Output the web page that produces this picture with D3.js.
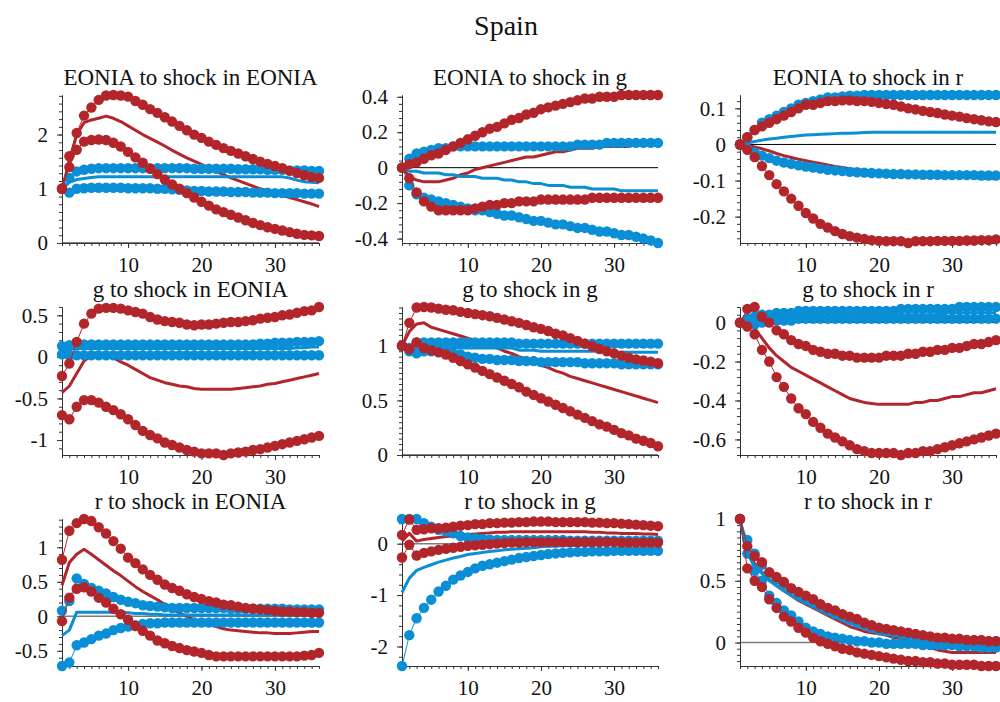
<!DOCTYPE html>
<html><head><meta charset="utf-8">
<script src="https://cdn.jsdelivr.net/npm/d3@7"></script>
<style>body{margin:0;background:#fff}svg{display:block}</style>
</head><body>
<svg id="chart" width="1000" height="702"></svg>
<script>
// ---------- data ----------
const periods = [1,2,3,4,5,6,7,8,9,10,11,12,13,14,15,16,17,18,19,20,21,22,23,24,25,26,27,28,29,30,31,32,33,34,35,36];
const mainTitle = "Spain";
const panelTitles = ["EONIA to shock in EONIA","EONIA to shock in g","EONIA to shock in r",
  "g to shock in EONIA","g to shock in g","g to shock in r",
  "r to shock in EONIA","r to shock in g","r to shock in r"];
const xTickValues = [10,20,30];
const yTickValues = [[0,1,2],[-0.4,-0.2,0,0.2,0.4],[-0.2,-0.1,0,0.1],
  [-1,-0.5,0,0.5],[0,0.5,1],[-0.6,-0.4,-0.2,0],
  [-0.5,0,0.5,1],[-2,-1,0],[0,0.5,1]];

// EONIA to shock in EONIA
const EE_redHi = [1.0,1.6,2.03,2.35,2.5,2.64,2.72,2.73,2.72,2.7,2.62,2.55,2.47,2.4,2.32,2.24,2.16,2.08,2.0,1.94,1.87,1.81,1.75,1.7,1.65,1.6,1.55,1.5,1.46,1.42,1.38,1.33,1.29,1.25,1.22,1.2];
const EE_redMid = [1.0,1.5,2.0,2.22,2.27,2.3,2.34,2.3,2.24,2.16,2.08,2.0,1.93,1.86,1.79,1.71,1.64,1.57,1.51,1.45,1.38,1.32,1.26,1.2,1.15,1.1,1.05,1.0,0.96,0.92,0.88,0.84,0.8,0.76,0.72,0.67];
const EE_redLo = [1.0,1.4,1.72,1.87,1.9,1.91,1.9,1.85,1.78,1.68,1.58,1.48,1.37,1.27,1.17,1.08,1.0,0.92,0.84,0.76,0.69,0.62,0.57,0.52,0.47,0.42,0.37,0.33,0.29,0.26,0.23,0.2,0.17,0.15,0.14,0.13];
const EE_blueHi = [1.0,1.2,1.32,1.35,1.37,1.38,1.38,1.38,1.38,1.38,1.38,1.38,1.38,1.38,1.38,1.38,1.38,1.38,1.37,1.37,1.37,1.37,1.37,1.37,1.36,1.36,1.36,1.36,1.35,1.35,1.35,1.34,1.34,1.34,1.33,1.33];
const EE_blueMid = [1.0,1.12,1.17,1.19,1.21,1.22,1.22,1.22,1.22,1.22,1.22,1.22,1.22,1.22,1.22,1.22,1.22,1.22,1.22,1.22,1.22,1.22,1.22,1.22,1.22,1.22,1.22,1.22,1.22,1.22,1.22,1.2,1.16,1.13,1.12,1.11];
const EE_blueLo = [1.0,0.93,1.0,1.01,1.02,1.02,1.02,1.02,1.02,1.01,1.01,1.01,1.01,1.0,1.0,0.99,0.98,0.97,0.96,0.96,0.95,0.95,0.95,0.94,0.94,0.94,0.93,0.93,0.93,0.92,0.92,0.92,0.92,0.91,0.91,0.91];

// EONIA to shock in g
const EG_redHi = [0,0.02,0.03,0.05,0.07,0.08,0.1,0.12,0.14,0.16,0.18,0.2,0.22,0.23,0.25,0.27,0.28,0.3,0.31,0.33,0.34,0.35,0.36,0.37,0.38,0.39,0.39,0.4,0.4,0.4,0.41,0.41,0.41,0.41,0.41,0.41];
const EG_redMid = [0,-0.05,-0.07,-0.08,-0.08,-0.08,-0.07,-0.06,-0.04,-0.03,-0.01,0.0,0.01,0.02,0.03,0.04,0.05,0.06,0.06,0.07,0.08,0.09,0.09,0.1,0.11,0.11,0.11,0.12,0.12,0.12,0.12,0.12,0.13,0.13,0.13,0.14];
const EG_redLo = [0,-0.06,-0.14,-0.19,-0.22,-0.24,-0.24,-0.24,-0.24,-0.24,-0.23,-0.22,-0.21,-0.21,-0.2,-0.2,-0.19,-0.19,-0.19,-0.18,-0.18,-0.18,-0.18,-0.18,-0.18,-0.18,-0.17,-0.17,-0.17,-0.17,-0.17,-0.17,-0.17,-0.17,-0.17,-0.17];
const EG_blueHi = [0,0.05,0.08,0.09,0.1,0.11,0.11,0.12,0.12,0.12,0.12,0.12,0.12,0.12,0.12,0.12,0.12,0.12,0.12,0.12,0.12,0.12,0.12,0.12,0.13,0.13,0.13,0.13,0.14,0.14,0.14,0.14,0.14,0.14,0.14,0.14];
const EG_blueMid = [0,-0.02,-0.02,-0.03,-0.03,-0.03,-0.04,-0.04,-0.05,-0.05,-0.05,-0.06,-0.06,-0.06,-0.07,-0.07,-0.08,-0.08,-0.09,-0.09,-0.1,-0.1,-0.1,-0.11,-0.11,-0.11,-0.12,-0.12,-0.12,-0.12,-0.13,-0.13,-0.13,-0.13,-0.13,-0.13];
const EG_blueLo = [0,-0.1,-0.15,-0.17,-0.18,-0.19,-0.2,-0.21,-0.22,-0.23,-0.24,-0.24,-0.25,-0.26,-0.27,-0.27,-0.28,-0.29,-0.3,-0.3,-0.31,-0.32,-0.32,-0.33,-0.34,-0.34,-0.35,-0.36,-0.36,-0.37,-0.38,-0.38,-0.39,-0.4,-0.41,-0.425];

// EONIA to shock in r
const ER_redHi = [0,0.02,0.04,0.05,0.06,0.07,0.08,0.09,0.1,0.11,0.11,0.115,0.12,0.12,0.122,0.122,0.12,0.12,0.118,0.115,0.112,0.11,0.105,0.1,0.097,0.093,0.09,0.087,0.083,0.08,0.077,0.073,0.07,0.067,0.064,0.062];
const ER_redMid = [0,-0.003,-0.007,-0.012,-0.018,-0.025,-0.031,-0.036,-0.041,-0.045,-0.049,-0.053,-0.057,-0.061,-0.064,-0.067,-0.07,-0.072,-0.074,-0.076,-0.078,-0.08,-0.081,-0.083,-0.084,-0.085,-0.086,-0.087,-0.088,-0.089,-0.09,-0.091,-0.092,-0.093,-0.094,-0.095];
const ER_redLo = [0,-0.015,-0.035,-0.06,-0.085,-0.11,-0.13,-0.15,-0.17,-0.19,-0.205,-0.22,-0.23,-0.24,-0.248,-0.254,-0.258,-0.262,-0.265,-0.267,-0.268,-0.268,-0.268,-0.273,-0.268,-0.268,-0.268,-0.267,-0.267,-0.267,-0.267,-0.266,-0.266,-0.265,-0.265,-0.263];
const ER_blueHi = [0,0.02,0.04,0.06,0.07,0.08,0.09,0.1,0.11,0.115,0.12,0.125,0.13,0.13,0.133,0.135,0.135,0.137,0.137,0.137,0.137,0.137,0.137,0.137,0.137,0.137,0.137,0.137,0.137,0.137,0.137,0.137,0.137,0.137,0.137,0.137];
const ER_blueMid = [0,0.004,0.008,0.012,0.015,0.017,0.02,0.022,0.024,0.026,0.027,0.028,0.029,0.03,0.031,0.031,0.032,0.033,0.034,0.034,0.034,0.034,0.034,0.034,0.034,0.034,0.034,0.034,0.034,0.034,0.034,0.034,0.034,0.034,0.034,0.034];
const ER_blueLo = [0,-0.012,-0.022,-0.031,-0.038,-0.045,-0.05,-0.054,-0.058,-0.061,-0.064,-0.067,-0.07,-0.072,-0.074,-0.076,-0.077,-0.078,-0.079,-0.08,-0.081,-0.082,-0.082,-0.083,-0.083,-0.084,-0.084,-0.084,-0.085,-0.085,-0.085,-0.085,-0.085,-0.086,-0.086,-0.086];

// g to shock in EONIA
const GE_redHi = [-0.23,-0.08,0.18,0.4,0.52,0.58,0.59,0.59,0.58,0.56,0.54,0.52,0.48,0.45,0.43,0.42,0.41,0.39,0.38,0.39,0.39,0.4,0.41,0.42,0.42,0.43,0.44,0.46,0.47,0.48,0.5,0.51,0.53,0.55,0.56,0.6];
const GE_redMid = [-0.43,-0.35,-0.2,-0.05,0.02,0.03,0.02,-0.01,-0.06,-0.1,-0.15,-0.2,-0.25,-0.28,-0.31,-0.33,-0.35,-0.36,-0.38,-0.39,-0.39,-0.39,-0.39,-0.39,-0.38,-0.37,-0.36,-0.35,-0.33,-0.32,-0.3,-0.28,-0.26,-0.24,-0.22,-0.2];
const GE_redLo = [-0.7,-0.75,-0.6,-0.52,-0.52,-0.55,-0.6,-0.64,-0.69,-0.75,-0.82,-0.89,-0.94,-0.98,-1.03,-1.06,-1.09,-1.12,-1.14,-1.16,-1.16,-1.16,-1.18,-1.16,-1.15,-1.14,-1.12,-1.11,-1.09,-1.07,-1.05,-1.03,-1.01,-0.99,-0.97,-0.95];
const GE_blueHi = [0.13,0.14,0.15,0.15,0.15,0.15,0.15,0.15,0.15,0.15,0.15,0.15,0.15,0.15,0.15,0.15,0.15,0.15,0.15,0.15,0.15,0.15,0.15,0.15,0.15,0.15,0.15,0.16,0.16,0.17,0.17,0.17,0.18,0.18,0.18,0.19];
const GE_blueMid = [0.08,0.09,0.1,0.1,0.1,0.1,0.1,0.1,0.1,0.1,0.1,0.1,0.1,0.1,0.1,0.1,0.1,0.1,0.1,0.1,0.1,0.1,0.1,0.1,0.1,0.1,0.1,0.1,0.1,0.1,0.1,0.1,0.11,0.11,0.12,0.12];
const GE_blueLo = [0.03,0.02,0.02,0.02,0.02,0.02,0.02,0.02,0.02,0.02,0.02,0.02,0.02,0.02,0.02,0.02,0.02,0.02,0.02,0.02,0.02,0.02,0.02,0.02,0.02,0.02,0.02,0.02,0.02,0.02,0.02,0.02,0.02,0.02,0.02,0.02];

// g to shock in g
const GG_redHi = [1.0,1.21,1.35,1.355,1.35,1.34,1.33,1.325,1.31,1.3,1.29,1.28,1.27,1.255,1.24,1.225,1.21,1.19,1.17,1.155,1.135,1.11,1.095,1.07,1.045,1.02,0.995,0.97,0.95,0.93,0.91,0.89,0.875,0.865,0.855,0.84];
const GG_redMid = [1.0,1.13,1.2,1.21,1.17,1.15,1.13,1.11,1.09,1.07,1.05,1.02,1.0,0.98,0.95,0.93,0.9,0.88,0.85,0.82,0.8,0.77,0.75,0.72,0.7,0.68,0.66,0.64,0.62,0.6,0.58,0.56,0.54,0.52,0.5,0.48];
const GG_redLo = [1.0,0.97,1.03,0.98,0.96,0.94,0.92,0.89,0.86,0.83,0.8,0.77,0.74,0.71,0.68,0.65,0.62,0.58,0.55,0.52,0.49,0.46,0.43,0.4,0.37,0.34,0.31,0.28,0.26,0.23,0.2,0.18,0.15,0.13,0.11,0.08];
const GG_blueHi = [1.0,0.98,1.03,1.03,1.03,1.03,1.03,1.03,1.03,1.03,1.03,1.03,1.03,1.03,1.03,1.03,1.02,1.02,1.02,1.02,1.02,1.02,1.02,1.02,1.02,1.02,1.02,1.02,1.02,1.02,1.02,1.02,1.02,1.02,1.02,1.02];
const GG_blueMid = [1.0,0.97,0.97,0.98,0.98,0.98,0.98,0.98,0.98,0.98,0.98,0.98,0.98,0.98,0.98,0.98,0.96,0.96,0.96,0.95,0.95,0.95,0.95,0.95,0.95,0.95,0.95,0.95,0.95,0.94,0.94,0.94,0.94,0.94,0.94,0.94];
const GG_blueLo = [1.0,0.95,0.93,0.95,0.95,0.95,0.94,0.93,0.92,0.9,0.89,0.88,0.88,0.87,0.87,0.87,0.86,0.86,0.86,0.85,0.85,0.85,0.85,0.85,0.85,0.84,0.84,0.84,0.84,0.84,0.83,0.83,0.83,0.83,0.83,0.83];

// g to shock in r
const GR_redHi = [0,0.07,0.08,0.03,0.0,-0.04,-0.06,-0.09,-0.11,-0.12,-0.14,-0.15,-0.16,-0.16,-0.17,-0.17,-0.18,-0.18,-0.18,-0.18,-0.17,-0.17,-0.17,-0.16,-0.16,-0.15,-0.15,-0.14,-0.14,-0.13,-0.13,-0.12,-0.11,-0.11,-0.1,-0.09];
const GR_redMid = [0,0.0,-0.03,-0.08,-0.13,-0.17,-0.2,-0.23,-0.25,-0.27,-0.29,-0.31,-0.33,-0.35,-0.37,-0.39,-0.4,-0.41,-0.415,-0.42,-0.42,-0.42,-0.42,-0.42,-0.41,-0.41,-0.4,-0.4,-0.39,-0.38,-0.38,-0.37,-0.36,-0.36,-0.35,-0.34];
const GR_redLo = [0,-0.02,-0.06,-0.14,-0.2,-0.28,-0.33,-0.39,-0.44,-0.47,-0.51,-0.54,-0.57,-0.59,-0.61,-0.63,-0.65,-0.66,-0.67,-0.67,-0.67,-0.67,-0.68,-0.67,-0.67,-0.66,-0.66,-0.65,-0.64,-0.63,-0.62,-0.61,-0.6,-0.59,-0.58,-0.57];
const GR_blueHi = [0,0.02,0.03,0.04,0.04,0.05,0.05,0.05,0.06,0.06,0.06,0.06,0.06,0.06,0.06,0.06,0.06,0.06,0.06,0.06,0.06,0.06,0.07,0.07,0.07,0.07,0.07,0.07,0.07,0.07,0.08,0.08,0.08,0.08,0.08,0.08];
const GR_blueMid = [0,0.01,0.02,0.02,0.03,0.03,0.03,0.03,0.03,0.03,0.03,0.03,0.03,0.03,0.03,0.03,0.03,0.03,0.04,0.04,0.04,0.04,0.04,0.04,0.04,0.04,0.04,0.04,0.05,0.05,0.05,0.05,0.05,0.05,0.05,0.05];
const GR_blueLo = [0,0.0,-0.01,0.0,0.01,0.01,0.01,0.01,0.02,0.02,0.02,0.02,0.02,0.02,0.02,0.02,0.02,0.02,0.02,0.02,0.02,0.02,0.02,0.02,0.02,0.02,0.02,0.02,0.02,0.02,0.02,0.02,0.02,0.02,0.02,0.02];

// r to shock in EONIA
const RE_redHi = [0.82,1.24,1.35,1.41,1.38,1.29,1.2,1.09,0.98,0.85,0.77,0.68,0.6,0.53,0.46,0.41,0.37,0.32,0.28,0.25,0.22,0.2,0.17,0.16,0.14,0.12,0.11,0.1,0.09,0.08,0.07,0.07,0.06,0.06,0.05,0.05];
const RE_redMid = [0.45,0.78,0.9,0.97,0.9,0.82,0.74,0.66,0.59,0.51,0.43,0.36,0.3,0.24,0.17,0.1,0.05,0.0,-0.05,-0.09,-0.12,-0.15,-0.18,-0.2,-0.21,-0.22,-0.23,-0.24,-0.24,-0.25,-0.25,-0.25,-0.24,-0.23,-0.22,-0.22];
const RE_redLo = [-0.07,0.27,0.4,0.42,0.36,0.27,0.2,0.11,0.03,-0.05,-0.14,-0.21,-0.28,-0.35,-0.39,-0.43,-0.46,-0.49,-0.51,-0.53,-0.56,-0.58,-0.58,-0.58,-0.58,-0.58,-0.58,-0.58,-0.58,-0.58,-0.58,-0.58,-0.58,-0.57,-0.56,-0.53];
const RE_blueHi = [0.08,0.22,0.55,0.47,0.41,0.37,0.33,0.28,0.24,0.21,0.19,0.16,0.15,0.14,0.13,0.12,0.12,0.12,0.12,0.12,0.12,0.12,0.12,0.11,0.11,0.11,0.11,0.11,0.11,0.11,0.11,0.1,0.1,0.1,0.1,0.1];
const RE_blueMid = [-0.28,-0.2,0.06,0.06,0.06,0.06,0.06,0.06,0.06,0.05,0.04,0.04,0.03,0.03,0.02,0.02,0.02,0.02,0.02,0.02,0.02,0.02,0.02,0.02,0.02,0.02,0.02,0.02,0.02,0.02,0.02,0.02,0.02,0.02,0.02,0.02];
const RE_blueLo = [-0.72,-0.67,-0.42,-0.38,-0.33,-0.28,-0.25,-0.2,-0.17,-0.15,-0.13,-0.11,-0.1,-0.1,-0.09,-0.09,-0.09,-0.09,-0.09,-0.09,-0.09,-0.09,-0.09,-0.09,-0.09,-0.09,-0.09,-0.09,-0.09,-0.09,-0.09,-0.09,-0.09,-0.09,-0.09,-0.09];

// r to shock in g
const RG_redHi = [0.17,0.47,0.27,0.28,0.3,0.3,0.31,0.33,0.35,0.36,0.38,0.38,0.4,0.4,0.41,0.41,0.42,0.42,0.43,0.43,0.43,0.42,0.42,0.42,0.42,0.42,0.41,0.41,0.4,0.4,0.39,0.38,0.37,0.36,0.35,0.34];
const RG_redMid = [0.05,0.2,0.05,0.08,0.1,0.12,0.14,0.15,0.17,0.18,0.19,0.2,0.21,0.22,0.22,0.23,0.23,0.23,0.23,0.23,0.23,0.23,0.23,0.23,0.23,0.23,0.22,0.22,0.21,0.21,0.2,0.2,0.2,0.19,0.19,0.18];
const RG_redLo = [-0.27,-0.02,-0.23,-0.18,-0.15,-0.12,-0.1,-0.08,-0.06,-0.04,-0.03,-0.02,-0.01,0.0,0.01,0.02,0.02,0.03,0.03,0.03,0.03,0.03,0.03,0.03,0.03,0.03,0.03,0.03,0.03,0.03,0.02,0.02,0.02,0.02,0.02,0.02];
const RG_blueHi = [0.48,0.48,0.48,0.4,0.33,0.27,0.24,0.2,0.15,0.12,0.1,0.09,0.08,0.07,0.07,0.07,0.07,0.07,0.07,0.07,0.07,0.07,0.07,0.06,0.06,0.06,0.06,0.06,0.06,0.06,0.06,0.06,0.06,0.06,0.06,0.06];
const RG_blueMid = [-0.95,-0.67,-0.52,-0.46,-0.41,-0.36,-0.32,-0.28,-0.25,-0.21,-0.19,-0.17,-0.15,-0.14,-0.12,-0.11,-0.1,-0.09,-0.08,-0.06,-0.05,-0.05,-0.04,-0.04,-0.03,-0.03,-0.03,-0.02,-0.02,-0.02,-0.02,-0.02,-0.02,-0.02,-0.02,-0.02];
const RG_blueLo = [-2.38,-1.78,-1.45,-1.25,-1.09,-0.93,-0.82,-0.7,-0.62,-0.55,-0.48,-0.43,-0.4,-0.37,-0.34,-0.31,-0.28,-0.26,-0.24,-0.22,-0.2,-0.19,-0.18,-0.17,-0.16,-0.16,-0.15,-0.15,-0.15,-0.14,-0.14,-0.14,-0.14,-0.14,-0.14,-0.14];

// r to shock in r
const RR_redHi = [1.0,0.78,0.7,0.65,0.57,0.53,0.49,0.44,0.41,0.38,0.35,0.31,0.28,0.26,0.23,0.21,0.19,0.16,0.14,0.12,0.11,0.1,0.09,0.08,0.07,0.06,0.05,0.04,0.04,0.03,0.03,0.02,0.02,0.02,0.01,0.01];
const RR_redMid = [1.0,0.72,0.64,0.57,0.51,0.46,0.42,0.38,0.34,0.31,0.28,0.25,0.22,0.19,0.16,0.13,0.11,0.09,0.08,0.07,0.06,0.04,0.03,0.01,0.0,-0.02,-0.04,-0.06,-0.07,-0.08,-0.08,-0.08,-0.08,-0.08,-0.08,-0.08];
const RR_redLo = [1.0,0.6,0.5,0.45,0.35,0.28,0.21,0.17,0.12,0.08,0.04,0.01,-0.01,-0.03,-0.05,-0.06,-0.08,-0.09,-0.1,-0.11,-0.12,-0.13,-0.14,-0.15,-0.15,-0.16,-0.16,-0.17,-0.17,-0.18,-0.18,-0.18,-0.18,-0.19,-0.19,-0.19];
const RR_blueHi = [1.0,0.83,0.72,0.63,0.56,0.51,0.47,0.43,0.39,0.35,0.32,0.29,0.26,0.23,0.21,0.18,0.16,0.14,0.12,0.1,0.09,0.08,0.07,0.06,0.05,0.04,0.04,0.03,0.03,0.02,0.02,0.02,0.01,0.01,0.01,0.01];
const RR_blueMid = [1.0,0.72,0.62,0.56,0.5,0.46,0.42,0.38,0.35,0.32,0.29,0.26,0.23,0.21,0.18,0.16,0.14,0.12,0.1,0.09,0.07,0.06,0.05,0.04,0.03,0.02,0.01,0.0,0.0,-0.01,-0.01,-0.02,-0.02,-0.02,-0.03,-0.03];
const RR_blueLo = [1.0,0.72,0.58,0.5,0.38,0.32,0.26,0.22,0.17,0.12,0.09,0.07,0.05,0.04,0.03,0.02,0.01,0.01,0.0,0.0,-0.01,-0.01,-0.01,-0.01,-0.01,-0.02,-0.02,-0.02,-0.02,-0.02,-0.03,-0.03,-0.03,-0.04,-0.04,-0.04];

// ---------- layout / style ----------
const RED = "#b2262b", BLUE = "#0a8ed6";
const colLeft = [62, 402, 740], colRight = [319, 658, 996];
const rowTop = [95, 307, 519], rowBottom = [243, 455, 666];
const minorPerMajor = [7, 5, 5, 5, 10, 5, 5, 5, 10];
const FONT = "'Liberation Serif','Times New Roman',serif";

const panels = [
  {redHi:EE_redHi, redMid:EE_redMid, redLo:EE_redLo, blueHi:EE_blueHi, blueMid:EE_blueMid, blueLo:EE_blueLo},
  {redHi:EG_redHi, redMid:EG_redMid, redLo:EG_redLo, blueHi:EG_blueHi, blueMid:EG_blueMid, blueLo:EG_blueLo},
  {redHi:ER_redHi, redMid:ER_redMid, redLo:ER_redLo, blueHi:ER_blueHi, blueMid:ER_blueMid, blueLo:ER_blueLo},
  {redHi:GE_redHi, redMid:GE_redMid, redLo:GE_redLo, blueHi:GE_blueHi, blueMid:GE_blueMid, blueLo:GE_blueLo},
  {redHi:GG_redHi, redMid:GG_redMid, redLo:GG_redLo, blueHi:GG_blueHi, blueMid:GG_blueMid, blueLo:GG_blueLo},
  {redHi:GR_redHi, redMid:GR_redMid, redLo:GR_redLo, blueHi:GR_blueHi, blueMid:GR_blueMid, blueLo:GR_blueLo},
  {redHi:RE_redHi, redMid:RE_redMid, redLo:RE_redLo, blueHi:RE_blueHi, blueMid:RE_blueMid, blueLo:RE_blueLo},
  {redHi:RG_redHi, redMid:RG_redMid, redLo:RG_redLo, blueHi:RG_blueHi, blueMid:RG_blueMid, blueLo:RG_blueLo},
  {redHi:RR_redHi, redMid:RR_redMid, redLo:RR_redLo, blueHi:RR_blueHi, blueMid:RR_blueMid, blueLo:RR_blueLo}
];

const svg = d3.select("#chart");
svg.append("rect").attr("width",1000).attr("height",702).attr("fill","#fff");

svg.append("text").attr("x",506).attr("y",35).attr("text-anchor","middle")
  .attr("font-family",FONT).attr("font-size",28).attr("fill","#111").text(mainTitle);

const fmt = v => String(v);

panels.forEach((p, i) => {
  const r = Math.floor(i / 3), c = i % 3;
  const L = colLeft[c], R = colRight[c], T = rowTop[r], B = rowBottom[r];
  const all = [].concat(p.redHi, p.redMid, p.redLo, p.blueHi, p.blueMid, p.blueLo, [0]);
  const x = d3.scaleLinear().domain([periods[0], periods[periods.length-1]]).range([L, R]);
  const y = d3.scaleLinear().domain(d3.extent(all)).range([B, T]);
  const g = svg.append("g");

  // title
  g.append("text").attr("x",(L+R)/2).attr("y",T-10).attr("text-anchor","middle")
    .attr("font-family",FONT).attr("font-size",23).attr("fill","#111").text(panelTitles[i]);

  // zero line
  const zeroColor = r === 2 ? "#7d7d7d" : "#000";
  g.append("line").attr("x1",x(periods[0])).attr("x2",x(periods[periods.length-1]))
    .attr("y1",y(0)).attr("y2",y(0)).attr("stroke",zeroColor).attr("stroke-width", r === 2 ? 1.5 : 1);

  // minor y ticks
  const tv = yTickValues[i];
  const step = (tv[1] - tv[0]) / minorPerMajor[i];
  const [ymin, ymax] = y.domain();
  const minors = [];
  for (let k = Math.ceil((ymin - 1e-9) / step); k * step <= ymax + 1e-9; k++) minors.push(k * step);

  const ax = (sel) => {
    sel.selectAll("path.domain").attr("stroke","#333");
    sel.selectAll(".tick line").attr("stroke","#333");
    sel.selectAll("text").attr("font-family",FONT).attr("font-size",21).attr("fill","#111");
  };
  g.append("g").attr("transform",`translate(${L},0)`)
    .call(d3.axisLeft(y).tickValues(minors).tickSize(3).tickSizeOuter(0).tickFormat(""))
    .call(ax);
  g.append("g").attr("transform",`translate(${L},0)`)
    .call(d3.axisLeft(y).tickValues(tv).tickSize(5).tickSizeOuter(0).tickPadding(9).tickFormat(fmt))
    .call(ax);
  g.append("g").attr("transform",`translate(0,${B})`)
    .call(d3.axisBottom(x).tickValues(periods).tickSize(3).tickSizeOuter(0).tickFormat(""))
    .call(ax);
  g.append("g").attr("transform",`translate(0,${B})`)
    .call(d3.axisBottom(x).tickValues(xTickValues).tickSize(5).tickSizeOuter(0).tickPadding(9).tickFormat(fmt))
    .call(ax);

  const line = d3.line().x((d, j) => x(periods[j])).y(d => y(d));
  const drawMid = (vals, color) => g.append("path").datum(vals).attr("d", line)
    .attr("fill","none").attr("stroke",color).attr("stroke-width",3).attr("stroke-linejoin","round");
  const drawBand = (vals, color) => {
    g.append("path").datum(vals).attr("d", line).attr("fill","none").attr("stroke",color).attr("stroke-width",1);
    g.append("g").selectAll("circle").data(vals).join("circle")
      .attr("cx", (d, j) => x(periods[j])).attr("cy", d => y(d)).attr("r", 5.2).attr("fill", color);
  };

  drawMid(p.redMid, RED);
  drawBand(p.blueHi, BLUE);
  drawBand(p.blueLo, BLUE);
  drawMid(p.blueMid, BLUE);
  drawBand(p.redHi, RED);
  drawBand(p.redLo, RED);
});
</script>
</body></html>
